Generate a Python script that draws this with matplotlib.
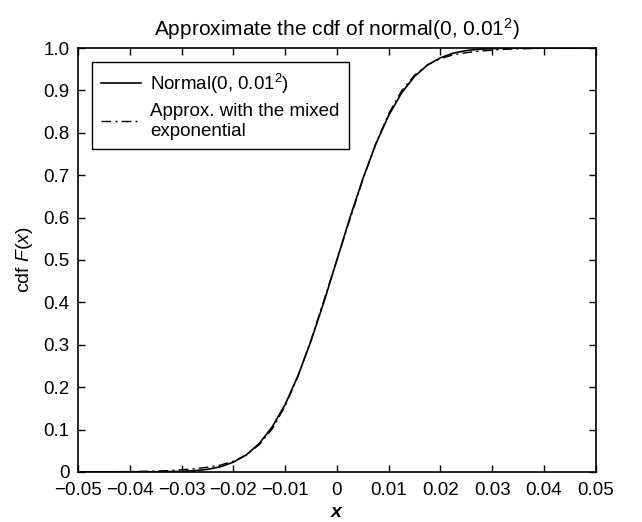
import matplotlib
matplotlib.use("Agg")
import matplotlib.pyplot as plt
import numpy as np

plt.rcParams['font.family'] = ['Liberation Sans', 'DejaVu Sans']
plt.rcParams['mathtext.fontset'] = 'custom'
plt.rcParams['mathtext.it'] = 'Liberation Sans:italic'
plt.rcParams['mathtext.bfit'] = 'Liberation Sans:italic:bold'
plt.rcParams['mathtext.rm'] = 'Liberation Sans'

# valores (metade esquerda, x <= 0)
x_esq = [-0.05, -0.0475, -0.045, -0.0425, -0.04, -0.0375, -0.035, -0.0325, -0.03,
         -0.0275, -0.025, -0.0225, -0.02, -0.0175, -0.015, -0.0125, -0.01,
         -0.0075, -0.005, -0.0025, 0.0]
normal_esq = [0.0, 0.0, 0.0, 0.0, 0.0, 0.0001, 0.0002, 0.0006, 0.0013,
              0.003, 0.006, 0.012, 0.023, 0.040, 0.067, 0.106, 0.159,
              0.227, 0.309, 0.401, 0.5]
aprox_esq = [0.0, 0.0002, 0.0003, 0.0005, 0.0008, 0.0013, 0.002, 0.003, 0.005,
             0.0075, 0.011, 0.016, 0.025, 0.040, 0.064, 0.101, 0.155,
             0.226, 0.311, 0.405, 0.5]

# curva simetrica: F(-x) = 1 - F(x)
x = np.array(x_esq + [-v for v in x_esq[-2::-1]])
normal = np.array(normal_esq + [1 - v for v in normal_esq[-2::-1]])
aprox = np.array(aprox_esq + [1 - v for v in aprox_esq[-2::-1]])

xticks = [-0.05, -0.04, -0.03, -0.02, -0.01, 0, 0.01, 0.02, 0.03, 0.04, 0.05]
xlabels = ['\u22120.05', '\u22120.04', '\u22120.03', '\u22120.02', '\u22120.01', '0',
           '0.01', '0.02', '0.03', '0.04', '0.05']
yticks = [0, 0.1, 0.2, 0.3, 0.4, 0.5, 0.6, 0.7, 0.8, 0.9, 1.0]
ylabels = ['0', '0.1', '0.2', '0.3', '0.4', '0.5', '0.6', '0.7', '0.8', '0.9', '1.0']

fig = plt.figure(figsize=(6.42, 5.22), dpi=100)
ax = fig.add_axes([0.1215, 0.096, 0.8065, 0.812])
ax.plot(x, normal, color='black', lw=1.2, label='Normal(0, 0.01$^2$)')
ax.plot(x, aprox, color='black', lw=1.0, linestyle=(0, (7, 3, 1.5, 3)),
        label='Approx. with the mixed\nexponential')
ax.set_xlim(-0.05, 0.05)
ax.set_ylim(0, 1.0)
ax.set_xticks(xticks)
ax.set_xticklabels(xlabels)
ax.set_yticks(yticks)
ax.set_yticklabels(ylabels)
ax.tick_params(direction='in', top=True, right=True, labelsize=13.5, length=5, width=1)
ax.tick_params(axis='x', pad=7)
ax.tick_params(axis='y', pad=6)
for s in ax.spines.values():
    s.set_linewidth(1.2)
ax.set_xlabel(r'$\mathbfit{x}$', fontsize=14, labelpad=4)
ax.set_ylabel('cdf $F(x)$', fontsize=14, labelpad=6)
ax.set_title('Approximate the cdf of normal(0, 0.01$^2$)', fontsize=15, pad=9)
leg = ax.legend(loc='upper left', fontsize=13.5, fancybox=False, edgecolor='black',
                framealpha=1, handlelength=2.1, handletextpad=0.5,
                borderaxespad=0.75, labelspacing=0.4, borderpad=0.5)
leg.get_frame().set_linewidth(1.0)
plt.savefig('out.png', dpi=100)
